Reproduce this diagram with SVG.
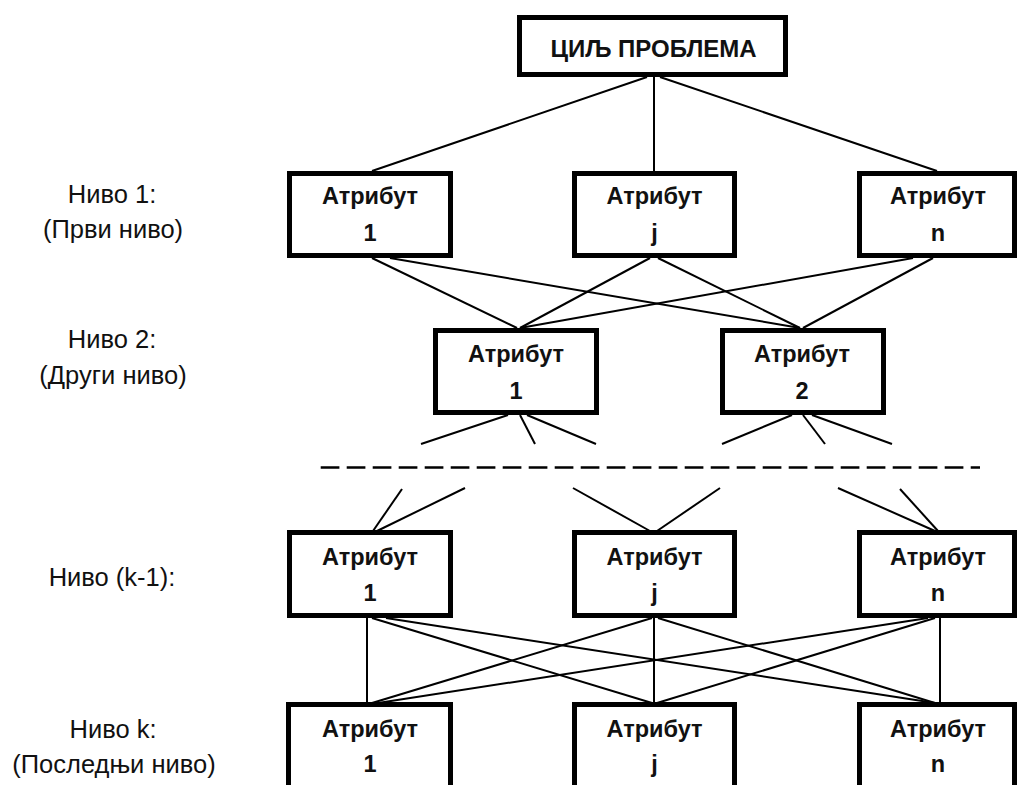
<svg xmlns="http://www.w3.org/2000/svg" width="1017" height="785" viewBox="0 0 1017 785">
<style>
.box{fill:#fff;stroke:#000;stroke-width:5}
.t{font-family:"Liberation Sans",Arial,sans-serif;font-weight:bold;font-size:23.5px;text-anchor:middle;fill:#111}
.lbl{font-family:"Liberation Sans",Arial,sans-serif;font-size:25.5px;text-anchor:middle;fill:#111}
.c line{stroke:#000;stroke-width:2}
</style>
<rect width="1017" height="785" fill="#fff"/>
<g id="connectors" class="c">
<line x1="647" y1="77" x2="372" y2="171"/>
<line x1="654" y1="77" x2="654" y2="171"/>
<line x1="660" y1="77" x2="937" y2="171"/>
<line x1="372" y1="258" x2="517" y2="328"/>
<line x1="390" y1="258" x2="800" y2="328"/>
<line x1="650" y1="258" x2="520" y2="328"/>
<line x1="658" y1="258" x2="800" y2="328"/>
<line x1="913" y1="258" x2="520" y2="328"/>
<line x1="933" y1="258" x2="803" y2="328"/>
<line x1="508" y1="415" x2="421" y2="444"/>
<line x1="520" y1="415" x2="535" y2="444"/>
<line x1="527" y1="415" x2="596" y2="444"/>
<line x1="792" y1="415" x2="722" y2="444"/>
<line x1="803" y1="415" x2="825" y2="444"/>
<line x1="812" y1="415" x2="892" y2="444"/>
<line x1="320.7" y1="467.5" x2="980" y2="467.5" stroke-dasharray="18.7 7.3" style="stroke-width:2.5"/>
<line x1="402" y1="489" x2="373" y2="531"/>
<line x1="465" y1="488" x2="377" y2="531"/>
<line x1="573" y1="488" x2="650" y2="531"/>
<line x1="720" y1="488" x2="657" y2="531"/>
<line x1="838" y1="488" x2="935" y2="531"/>
<line x1="900" y1="489" x2="938" y2="531"/>
<line x1="367" y1="618" x2="367" y2="703"/>
<line x1="654" y1="618" x2="654" y2="703"/>
<line x1="940" y1="618" x2="940" y2="703"/>
<line x1="372" y1="618" x2="652" y2="703"/>
<line x1="386" y1="618" x2="935" y2="703"/>
<line x1="652" y1="618" x2="372" y2="703"/>
<line x1="658" y1="618" x2="935" y2="703"/>
<line x1="928" y1="618" x2="378" y2="703"/>
<line x1="935" y1="618" x2="657" y2="703"/>
</g>
<g id="goal"><rect class="box" x="519.5" y="17.5" width="266" height="57"/><text class="t" x="653.5" y="57" style="font-size:24px">ЦИЉ ПРОБЛЕМА</text></g>
<g id="l1-1"><rect class="box" x="289.5" y="173.5" width="161" height="82"/><text class="t" x="370" y="204">Атрибут</text><text class="t" x="370" y="241">1</text></g>
<g id="l1-j"><rect class="box" x="574.5" y="173.5" width="160" height="82"/><text class="t" x="654.5" y="204">Атрибут</text><text class="t" x="654.5" y="241">j</text></g>
<g id="l1-n"><rect class="box" x="859.5" y="173.5" width="155" height="82"/><text class="t" x="938" y="204">Атрибут</text><text class="t" x="938" y="241">n</text></g>
<g id="l2-1"><rect class="box" x="435.5" y="330.5" width="161" height="82"/><text class="t" x="516" y="362">Атрибут</text><text class="t" x="516" y="399">1</text></g>
<g id="l2-2"><rect class="box" x="722.5" y="330.5" width="161" height="82"/><text class="t" x="802" y="362">Атрибут</text><text class="t" x="802" y="399">2</text></g>
<g id="lk1-1"><rect class="box" x="289.5" y="532.5" width="161" height="83"/><text class="t" x="370" y="565">Атрибут</text><text class="t" x="370" y="601">1</text></g>
<g id="lk1-j"><rect class="box" x="574.5" y="532.5" width="160" height="83"/><text class="t" x="654.5" y="565">Атрибут</text><text class="t" x="654.5" y="601">j</text></g>
<g id="lk1-n"><rect class="box" x="859.5" y="532.5" width="155" height="83"/><text class="t" x="938" y="565">Атрибут</text><text class="t" x="938" y="601">n</text></g>
<g id="lk-1"><rect class="box" x="288.5" y="704.5" width="162" height="84"/><text class="t" x="370" y="737">Атрибут</text><text class="t" x="370" y="772">1</text></g>
<g id="lk-j"><rect class="box" x="574.5" y="704.5" width="160" height="84"/><text class="t" x="654.5" y="737">Атрибут</text><text class="t" x="654.5" y="772">j</text></g>
<g id="lk-n"><rect class="box" x="859.5" y="704.5" width="155" height="84"/><text class="t" x="938" y="737">Атрибут</text><text class="t" x="938" y="772">n</text></g>
<g id="labels">
<text class="lbl" x="112" y="203">Ниво 1:</text>
<text class="lbl" x="113" y="238">(Први ниво)</text>
<text class="lbl" x="112" y="348">Ниво 2:</text>
<text class="lbl" x="113" y="384">(Други ниво)</text>
<text class="lbl" x="112" y="586">Ниво (k-1):</text>
<text class="lbl" x="113" y="738">Ниво k:</text>
<text class="lbl" x="114" y="773">(Последњи ниво)</text>
</g>
</svg>
